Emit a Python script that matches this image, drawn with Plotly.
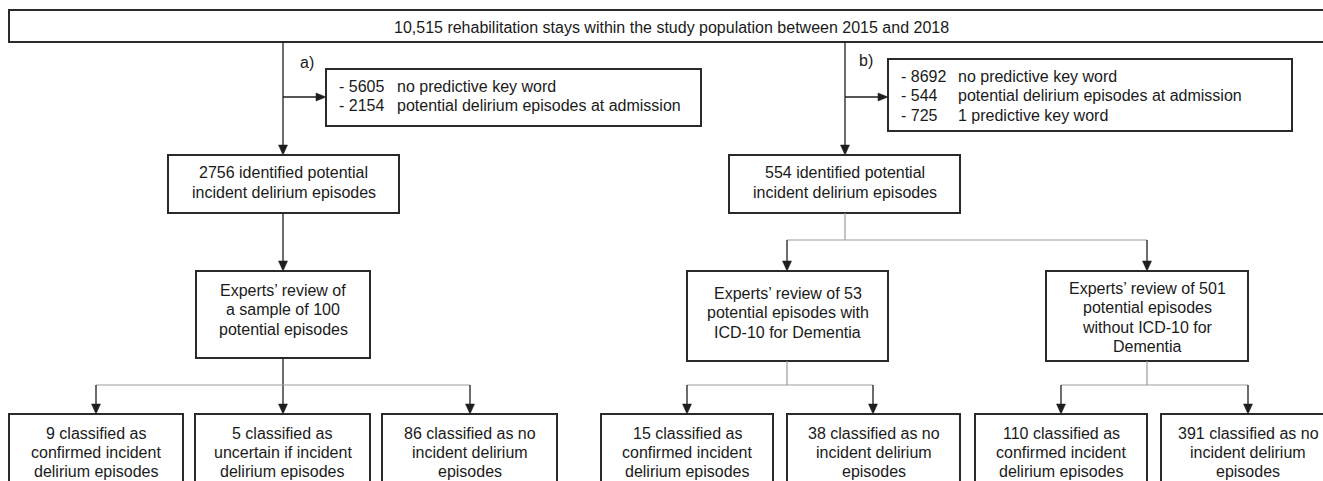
import plotly.graph_objects as go

# ---------------- data ----------------
total_stays = "10,515"
study_years = [2015, 2018]

a_excluded_counts = [5605, 2154]
a_excluded_labels = ["no predictive key word", "potential delirium episodes at admission"]
b_excluded_counts = [8692, 544, 725]
b_excluded_labels = ["no predictive key word", "potential delirium episodes at admission", "1 predictive key word"]

identified_counts = [2756, 554]          # a), b)
a_sample_size = 100
b_review_counts = [53, 501]              # with / without ICD-10 for Dementia
a_outcome_counts = [9, 5, 86]            # confirmed, uncertain, no
b_dem_outcome_counts = [15, 38]          # confirmed, no
b_nodem_outcome_counts = [110, 391]      # confirmed, no
branch_labels = ["a)", "b)"]

# ---------------- text of every box ----------------
top_text = [f"{total_stays} rehabilitation stays within the study population between {study_years[0]} and {study_years[1]}"]
ident_text = [[f"{n} identified potential", "incident delirium episodes"] for n in identified_counts]
sample_text = ["Experts\u2019 review of", f"a sample of {a_sample_size}", "potential episodes"]
dem_text = [f"Experts\u2019 review of {b_review_counts[0]}", "potential episodes with", "ICD-10 for Dementia"]
nodem_text = [f"Experts\u2019 review of {b_review_counts[1]}", "potential episodes", "without ICD-10 for", "Dementia"]
confirmed = lambda n: [f"{n} classified as", "confirmed incident", "delirium episodes"]
nodel = lambda n: [f"{n} classified as no", "incident delirium", "episodes"]
uncertain = lambda n: [f"{n} classified as", "uncertain if incident", "delirium episodes"]
bottom_texts = [confirmed(a_outcome_counts[0]), uncertain(a_outcome_counts[1]), nodel(a_outcome_counts[2]),
                confirmed(b_dem_outcome_counts[0]), nodel(b_dem_outcome_counts[1]),
                confirmed(b_nodem_outcome_counts[0]), nodel(b_nodem_outcome_counts[1])]

# ---------------- layout geometry (page-pixel coordinates) ----------------
W, H = 1323, 481
FONT = "Liberation Sans, Arial, sans-serif"
TXT = "#1a1a1a"
BOX = "#2a2a2a"
DARK = "#1e1e1e"
GRAY = "#9c9c9c"

boxes = {
    "top": (9, 1345, 10, 42),
    "a_side": (326, 701, 69, 126),
    "b_side": (888, 1292, 59, 131),
    "a_ident": (168, 399, 155, 213),
    "b_ident": (729, 960, 155, 213),
    "a_sample": (196, 370, 271, 358),
    "b_dem": (687, 888, 271, 361),
    "b_nodem": (1046, 1248, 271, 361),
}
bottom_x = [(9, 183), (195, 370), (382, 557), (601, 773), (787, 960), (975, 1147), (1161, 1345)]
bottom_y = (414, 510)

shapes = []
annots = []


def rect(x0, x1, y0, y1):
    shapes.append(dict(type="rect", xref="x", yref="y", x0=x0, x1=x1, y0=y0, y1=y1,
                       line=dict(color=BOX, width=2), fillcolor="rgba(0,0,0,0)", layer="above"))


def line(x0, y0, x1, y1, color=DARK, width=1.3):
    shapes.append(dict(type="line", xref="x", yref="y", x0=x0, y0=y0, x1=x1, y1=y1,
                       line=dict(color=color, width=width)))


def arrow_down(x, y0, y1):
    line(x, y0, x, y1 - 8)
    shapes.append(dict(type="path", xref="x", yref="y",
                       path=f"M {x-4.5},{y1-10} L {x+4.5},{y1-10} L {x},{y1} Z",
                       fillcolor=DARK, line=dict(color=DARK, width=0.5)))


def arrow_right(y, x0, x1):
    line(x0, y, x1 - 8, y)
    shapes.append(dict(type="path", xref="x", yref="y",
                       path=f"M {x1-10},{y-4} L {x1-10},{y+4} L {x1},{y} Z",
                       fillcolor=DARK, line=dict(color=DARK, width=0.5)))


def text(x, y, s, anchor="center"):
    annots.append(dict(x=x, y=y, xref="x", yref="y", text=s, showarrow=False,
                       xanchor=anchor, yanchor="middle",
                       font=dict(family=FONT, size=16, color=TXT)))


def centered_lines(box, lines, y_first, step=19.5):
    x0, x1 = box[0], box[1]
    for i, s in enumerate(lines):
        text((x0 + x1) / 2, y_first + i * step, s)


for b in boxes.values():
    rect(*b)
for bx in bottom_x:
    rect(bx[0], bx[1], *bottom_y)

# top text
text(671, 27.5, top_text[0])
# branch labels
text(298, 62, branch_labels[0], anchor="left")
text(857, 60.5, branch_labels[1], anchor="left")

# side boxes (two columns)
for i, (n, lab) in enumerate(zip(a_excluded_counts, a_excluded_labels)):
    y = 86 + i * 19.5
    text(337, y, f"- {n}", anchor="left")
    text(395, y, lab, anchor="left")
for i, (n, lab) in enumerate(zip(b_excluded_counts, b_excluded_labels)):
    y = 76 + i * 19.5
    text(899, y, f"- {n}", anchor="left")
    text(956, y, lab, anchor="left")

centered_lines(boxes["a_ident"], ident_text[0], 172.5)
centered_lines(boxes["b_ident"], ident_text[1], 172.5)
centered_lines(boxes["a_sample"], sample_text, 290)
centered_lines(boxes["b_dem"], dem_text, 293)
centered_lines(boxes["b_nodem"], nodem_text, 288)
for bx, lines in zip(bottom_x, bottom_texts):
    cx1 = min(bx[1], 1335)
    centered_lines((bx[0], cx1), lines, 433, step=19)

# ---------------- connectors ----------------
# branch a)
arrow_down(283, 42, 155)
arrow_right(97, 283, 326)
arrow_down(283, 213, 271)
arrow_down(283, 358, 414)
line(96, 385, 470, 385, color=GRAY, width=1.2)
arrow_down(96, 385, 414)
arrow_down(470, 385, 414)

# branch b)
arrow_down(845, 42, 155)
arrow_right(97, 845, 888)
line(845, 213, 845, 240, color=GRAY, width=1.2)
line(787, 240, 1147, 240, color=GRAY, width=1.2)
arrow_down(787, 240, 271)
arrow_down(1147, 240, 271)

line(787, 361, 787, 385, color=GRAY, width=1.2)
line(687, 385, 873, 385, color=GRAY, width=1.2)
arrow_down(687, 385, 414)
arrow_down(873, 385, 414)

line(1147, 361, 1147, 385, color=GRAY, width=1.2)
line(1061, 385, 1248, 385, color=GRAY, width=1.2)
arrow_down(1061, 385, 414)
arrow_down(1248, 385, 414)

fig = go.Figure()
fig.add_trace(go.Scatter(x=[0, W], y=[0, H], mode="markers", marker=dict(opacity=0),
                         hoverinfo="skip", showlegend=False))
fig.update_layout(
    width=W, height=H,
    margin=dict(l=0, r=0, t=0, b=0),
    paper_bgcolor="white", plot_bgcolor="white",
    xaxis=dict(range=[0, W], visible=False, fixedrange=True),
    yaxis=dict(range=[H, 0], visible=False, fixedrange=True),
    shapes=shapes, annotations=annots, showlegend=False,
)
fig.write_html(
    "out.html",
    config={"displayModeBar": False, "staticPlot": True},
    post_script="document.body.style.margin='0';document.body.style.overflow='hidden';"
                "document.documentElement.style.overflow='hidden';",
)
